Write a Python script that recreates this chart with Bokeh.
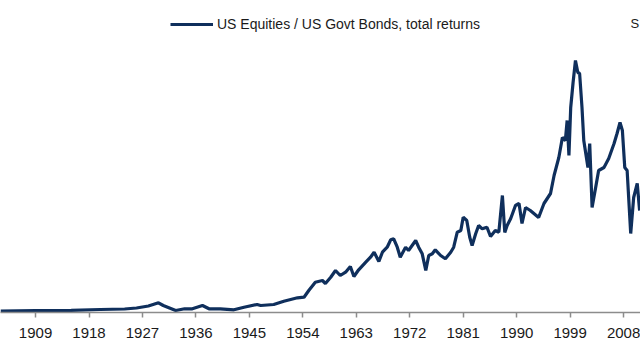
from bokeh.plotting import figure
from bokeh.models import Legend, LegendItem, FixedTicker, Range1d, Label
from bokeh.embed import file_html
from bokeh.resources import INLINE

series_name = "US Equities / US Govt Bonds, total returns"
source_text = "S"

years = [1903.1, 1909.0, 1915.0, 1919.9, 1924.0, 1926.0, 1928.0, 1929.7, 1930.5, 1932.6,
         1934.1, 1935.4, 1937.1, 1938.2, 1940.1, 1942.4, 1944.1, 1946.3, 1946.9, 1949.1,
         1950.8, 1953.1, 1954.2, 1955.0, 1956.1, 1957.3, 1957.8, 1958.7, 1959.5, 1960.3,
         1961.2, 1962.0, 1962.6, 1963.4, 1964.6, 1965.4, 1966.0, 1966.8, 1967.4, 1968.2,
         1968.8, 1969.3, 1969.9, 1970.4, 1971.3, 1971.8, 1973.0, 1973.5, 1974.1, 1974.7,
         1975.2, 1975.8, 1976.3, 1977.2, 1978.0, 1978.9, 1979.4, 1980.0, 1980.6, 1981.0,
         1981.6, 1982.1, 1982.5, 1983.1, 1983.6, 1984.2, 1985.0, 1985.6, 1986.4, 1987.0,
         1987.6, 1988.0, 1988.4, 1989.0, 1989.8, 1990.4, 1990.9, 1991.5, 1992.3, 1993.7,
         1994.6, 1995.7, 1996.3, 1997.1, 1997.7, 1998.2, 1998.5, 1998.8, 1999.1, 1999.5,
         1999.9, 2000.3, 2000.6, 2001.0, 2001.3, 2002.0, 2002.3, 2002.7, 2003.3, 2003.8,
         2004.7, 2005.5, 2006.4, 2006.9, 2007.4, 2007.8, 2008.2, 2008.6, 2009.2, 2009.7,
         2010.3, 2010.7]

ratio = [0.13, 0.20, 0.22, 0.30, 0.35, 0.45, 0.65, 0.97, 0.70, 0.20,
         0.37, 0.37, 0.70, 0.37, 0.37, 0.27, 0.53, 0.80, 0.70, 0.80,
         1.13, 1.47, 1.53, 2.20, 3.03, 3.20, 2.90, 3.53, 4.20, 3.70,
         4.03, 4.60, 3.60, 4.27, 5.03, 5.53, 6.03, 5.10, 6.03, 6.53,
         7.27, 7.37, 6.53, 5.53, 6.53, 6.20, 7.20, 6.53, 5.87, 4.20,
         5.70, 5.87, 6.27, 5.70, 5.37, 6.03, 6.53, 8.03, 8.20, 9.53,
         9.20, 7.53, 6.70, 7.87, 8.70, 8.37, 8.53, 7.60, 8.20, 8.03,
         11.70, 8.00, 8.70, 9.40, 10.70, 10.90, 8.90, 10.50, 10.20, 9.50,
         10.90, 11.90, 13.70, 15.50, 17.50, 17.20, 19.20, 15.70, 20.50, 23.00,
         25.20, 24.00, 23.90, 20.50, 17.20, 14.50, 16.90, 10.50, 12.50, 14.20,
         14.50, 15.40, 16.90, 17.90, 19.00, 18.20, 14.50, 14.20, 7.90, 11.50,
         12.90, 10.20]

tick_years = [1909, 1918, 1927, 1936, 1945, 1954, 1963, 1972, 1981, 1990, 1999, 2008]

FONT = "Liberation Sans"

p = figure(width=640, height=360, output_backend="svg", toolbar_location=None,
           x_range=Range1d(1903.1, 2010.85), y_range=Range1d(0, 31.2),
           y_axis_location=None,
           min_border_left=0, min_border_right=0, min_border_top=0, min_border_bottom=48)
p.grid.visible = False
p.outline_line_color = None
p.background_fill_color = "white"
p.border_fill_color = "white"

r = p.line(years, ratio, line_color="#0f2f5c", line_width=3.2)

ax = p.xaxis[0]
ax.ticker = FixedTicker(ticks=tick_years)
ax.axis_line_color = "#8c8c8c"
ax.axis_line_width = 1.5
ax.major_tick_line_color = "#8c8c8c"
ax.major_tick_line_width = 1.5
ax.major_tick_in = 0
ax.major_tick_out = 5
ax.minor_tick_line_color = None
ax.major_label_text_font = FONT
ax.major_label_text_font_size = "15px"
ax.major_label_standoff = 10
ax.major_label_text_color = "#1a1a1a"

legend = Legend(items=[LegendItem(label=series_name, renderers=[r])], location=(170, 280),
                glyph_width=43, glyph_height=16, label_height=16, label_standoff=4,
                padding=0, margin=0, spacing=0, border_line_alpha=0, background_fill_alpha=0,
                label_text_font=FONT, label_text_font_size="14px",
                label_text_color="#1a1a1a")
p.add_layout(legend)

src = Label(x=630, y=289, x_units="screen", y_units="screen", text=source_text,
            text_font=FONT, text_font_size="13px",
            text_color="#1a1a1a", text_baseline="middle")
p.add_layout(src)

open("out.html", "w").write(file_html(p, INLINE))
